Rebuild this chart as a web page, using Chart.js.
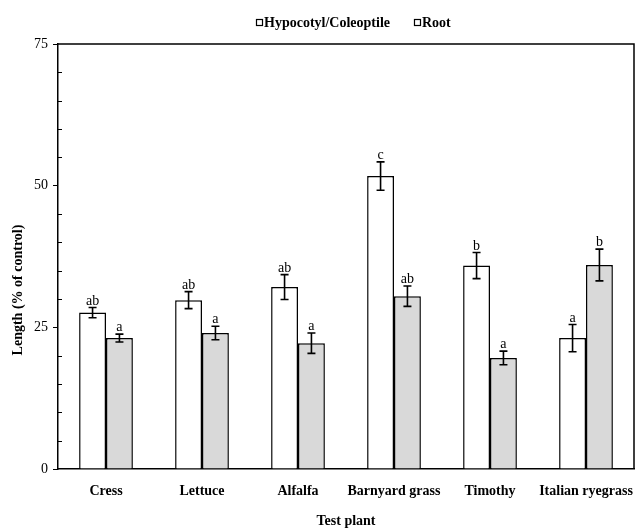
<!DOCTYPE html>
<html>
<head>
<meta charset="utf-8">
<script src="https://cdn.jsdelivr.net/npm/chart.js@4/dist/chart.umd.min.js"></script>
<style>
  html, body { margin: 0; padding: 0; background: #fff; }
  #wrap { width: 635px; height: 530px; position: relative; }
</style>
</head>
<body>
<div id="wrap"><canvas id="chart"></canvas></div>
<script>
// Values (% of control)
const plants = ['Cress', 'Lettuce', 'Alfalfa', 'Barnyard grass', 'Timothy', 'Italian ryegrass'];
const hypocotyl = [27.6, 29.8, 32.1, 51.7, 35.9, 23.1];
const hypocotylErr = [0.9, 1.5, 2.2, 2.5, 2.3, 2.4];
const root = [23.1, 24.0, 22.2, 30.5, 19.6, 36.0];
const rootErr = [0.7, 1.2, 1.8, 1.8, 1.2, 2.8];
const hypocotylLetters = ['ab', 'ab', 'ab', 'c', 'b', 'a'];
const rootLetters = ['a', 'a', 'a', 'ab', 'a', 'b'];
const yMajor = [0, 25, 50, 75];

const serif = '"Liberation Serif", "Times New Roman", serif';

// error bars, significance letters, frame, minor ticks, legend, y title
const extras = {
  id: 'extras',
  afterDatasetsDraw(chart) {
    const ctx = chart.ctx;
    const y = chart.scales.y;
    const area = chart.chartArea;
    const errs = [hypocotylErr, rootErr];
    const letters = [hypocotylLetters, rootLetters];

    ctx.save();
    ctx.strokeStyle = '#000';
    ctx.fillStyle = '#000';
    chart.data.datasets.forEach((ds, di) => {
      const meta = chart.getDatasetMeta(di);
      meta.data.forEach((bar, i) => {
        const v = ds.data[i];
        const e = errs[di][i];
        const top = y.getPixelForValue(v + e);
        const bot = y.getPixelForValue(v - e);
        ctx.lineWidth = 1.6;
        ctx.beginPath();
        ctx.moveTo(bar.x, top);
        ctx.lineTo(bar.x, bot);
        ctx.moveTo(bar.x - 4, top);
        ctx.lineTo(bar.x + 4, top);
        ctx.moveTo(bar.x - 4, bot);
        ctx.lineTo(bar.x + 4, bot);
        ctx.stroke();

        ctx.font = '14px ' + serif;
        ctx.textAlign = 'center';
        ctx.textBaseline = 'alphabetic';
        ctx.fillText(letters[di][i], bar.x, top - 3);
      });
    });

    // top and right frame lines
    ctx.lineWidth = 1.5;
    ctx.beginPath();
    ctx.moveTo(area.left, area.top);
    ctx.lineTo(area.right, area.top);
    ctx.lineTo(area.right, area.bottom);
    ctx.stroke();

    // minor ticks point inward
    ctx.lineWidth = 1;
    y.ticks.forEach(t => {
      if (yMajor.includes(t.value)) return;
      const py = Math.round(y.getPixelForValue(t.value)) + 0.5;
      ctx.beginPath();
      ctx.moveTo(area.left, py);
      ctx.lineTo(area.left + 4, py);
      ctx.stroke();
    });

    // legend: small hollow squares, sits right of centre like the original
    ctx.font = 'bold 14px ' + serif;
    ctx.textAlign = 'left';
    ctx.textBaseline = 'middle';
    let lx = 256;
    const ly = 23;
    chart.data.datasets.forEach(ds => {
      ctx.lineWidth = 1.2;
      ctx.fillStyle = '#fff';
      ctx.fillRect(lx, ly - 4, 6, 6);
      ctx.strokeRect(lx + 0.5, ly - 3.5, 6, 6);
      ctx.fillStyle = '#000';
      ctx.fillText(ds.label, lx + 8, ly);
      lx += 8 + ctx.measureText(ds.label).width + 24;
    });

    // y axis title
    ctx.font = 'bold 14px ' + serif;
    ctx.textAlign = 'center';
    ctx.textBaseline = 'middle';
    ctx.translate(18, 290);
    ctx.rotate(-Math.PI / 2);
    ctx.fillText('Length (% of control)', 0, 0);
    ctx.restore();
  }
};

new Chart(document.getElementById('chart'), {
  type: 'bar',
  data: {
    labels: plants,
    datasets: [
      {
        label: 'Hypocotyl/Coleoptile',
        data: hypocotyl,
        backgroundColor: '#ffffff',
        borderColor: '#000000',
        borderWidth: 1.5,
        barPercentage: 1,
        categoryPercentage: 0.56
      },
      {
        label: 'Root',
        data: root,
        backgroundColor: '#d9d9d9',
        borderColor: '#000000',
        borderWidth: 1.5,
        barPercentage: 1,
        categoryPercentage: 0.56
      }
    ]
  },
  options: {
    responsive: true,
    maintainAspectRatio: false,
    animation: false,
    layout: { padding: { top: 44, right: 1, left: 0, bottom: 0 } },
    plugins: {
      legend: { display: false },
      tooltip: { enabled: false }
    },
    scales: {
      x: {
        grid: { display: true, drawOnChartArea: false, drawTicks: false },
        border: { display: true, color: '#000', width: 1.5 },
        ticks: {
          color: '#000',
          padding: 14,
          maxRotation: 0,
          autoSkip: false,
          font: { family: serif, size: 14, weight: 'bold' }
        },
        title: {
          display: true,
          text: 'Test plant',
          color: '#000',
          padding: { top: 0, bottom: 0 },
          font: { family: serif, size: 14, weight: 'bold' }
        },
        afterFit(scale) {
          scale.height = 61;
          // let the last label run off the edge instead of shrinking the plot
          scale.paddingLeft = 0;
          scale.paddingRight = 0;
        }
      },
      y: {
        min: 0,
        max: 75,
        grid: {
          drawOnChartArea: false,
          drawTicks: true,
          tickLength: 5,
          color: ctx => (ctx.tick && yMajor.includes(ctx.tick.value)) ? '#000' : 'rgba(0,0,0,0)'
        },
        border: { display: true, color: '#000', width: 1.5 },
        ticks: {
          stepSize: 5,
          autoSkip: false,
          color: '#000',
          padding: 5,
          font: { family: serif, size: 14 },
          callback: v => yMajor.includes(v) ? v : ''
        },
        afterFit(scale) {
          scale.width = 58;
          scale.paddingTop = 0;
          scale.paddingBottom = 0;
        }
      }
    }
  },
  plugins: [extras]
});
</script>
</body>
</html>
